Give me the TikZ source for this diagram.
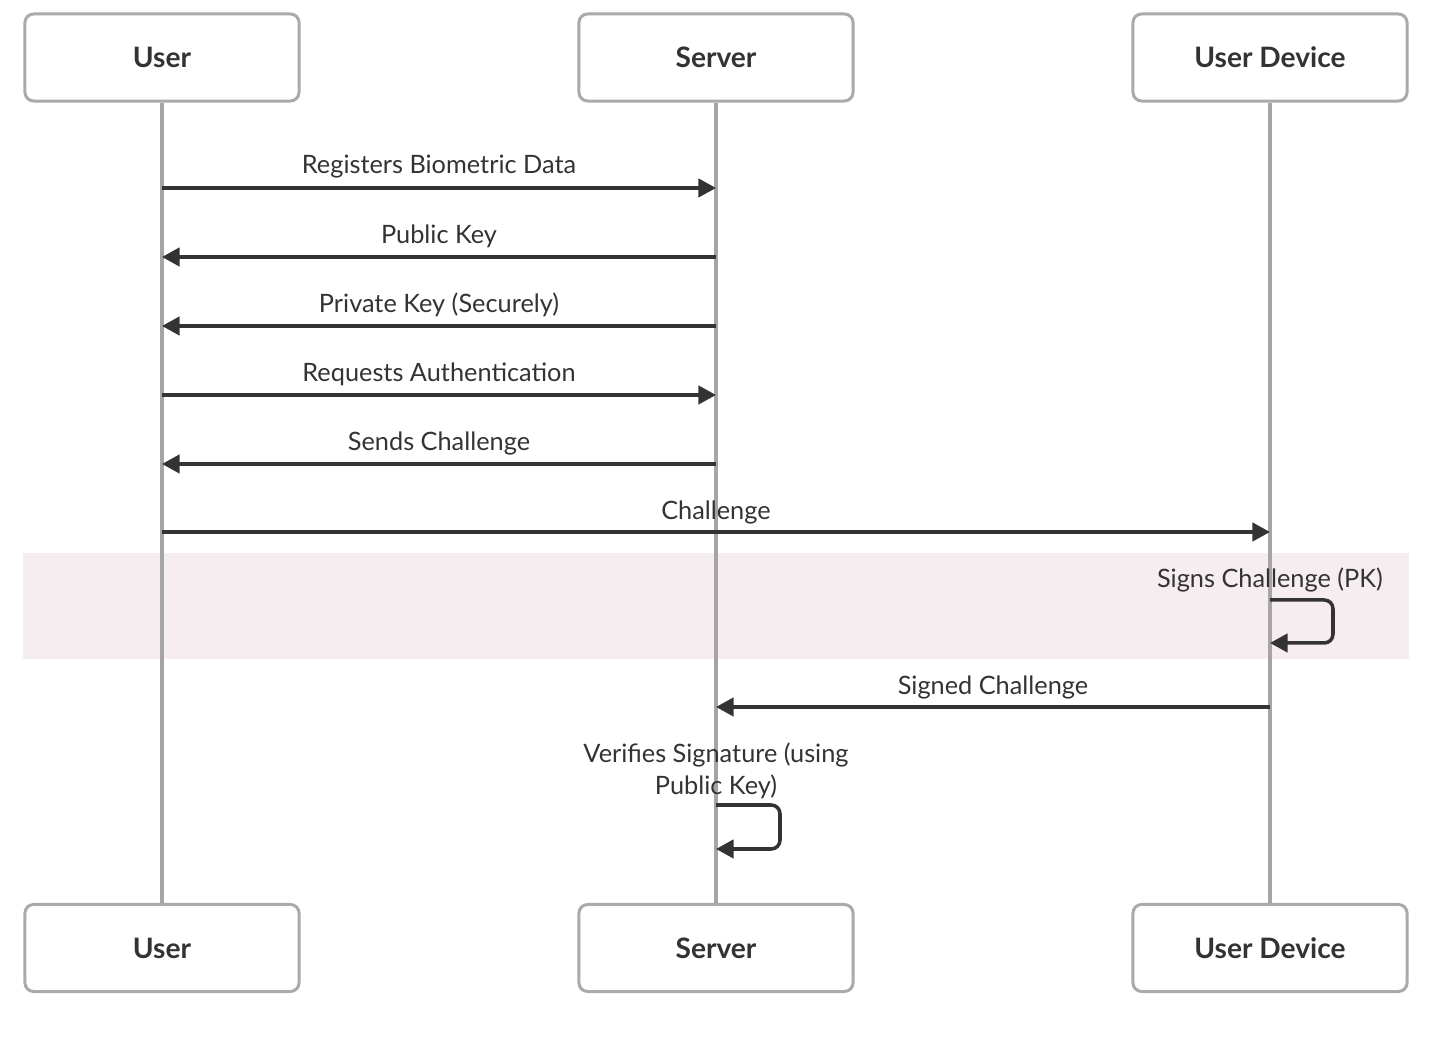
\documentclass[tikz,border=0pt]{standalone}
\usepackage{fontspec}
\setmainfont{Lato}
\usetikzlibrary{arrows.meta,positioning,calc}
\definecolor{boxgray}{RGB}{170,170,170}
\definecolor{linegray}{RGB}{165,165,165}
\definecolor{msgdark}{RGB}{51,51,51}
\definecolor{bandpink}{RGB}{246,237,240}
\tikzset{
  actor/.style={draw=boxgray, line width=0.85pt, rounded corners=2.5pt, fill=white,
    minimum width=2.74cm, minimum height=0.87cm, font=\fontsize{8}{9}\selectfont\bfseries, text=msgdark},
  lifeline/.style={draw=linegray, line width=0.95pt},
  msg/.style={draw=msgdark, line width=1pt, -{Triangle[length=5pt,width=5.2pt]}},
  msglbl/.style={font=\fontsize{7.2}{9}\selectfont, text=msgdark, inner sep=1pt}
}
\begin{document}
\begin{tikzpicture}[x=0.01cm, y=-0.01cm]
    \useasboundingbox (0,0) rectangle (1432,1037);

    % Highlighted region behind the signing step
    \fill[bandpink] (23,553) rectangle (1409,659);

    % Participants, top row
    \node[actor] (uTop) at (162,57.5) {User};
    \node[actor] (sTop) at (716,57.5) {Server};
    \node[actor] (dTop) at (1270,57.5) {User Device};

    % Participants, bottom row
    \node[actor] (uBot) at (162,948) {User};
    \node[actor] (sBot) at (716,948) {Server};
    \node[actor] (dBot) at (1270,948) {User Device};

    % Lifelines
    \draw[lifeline] (uTop) -- (uBot);
    \draw[lifeline] (sTop) -- (sBot);
    \draw[lifeline] (dTop) -- (dBot);

    % Points on the lifelines
    \foreach \n/\y in {1/188,2/257,3/326,4/395,5/464,6/532,7/600,8/643,9/707,10/805,11/849}{
      \coordinate (u\n) at (uTop |- 0,\y);
      \coordinate (s\n) at (sTop |- 0,\y);
      \coordinate (d\n) at (dTop |- 0,\y);
    }

    % Messages
    \draw[msg] (u1) -- (s1);
    \node[msglbl] (m1) at (439,167) {Registers Biometric Data};
    \draw[msg] (s2) -- (u2);
    \node[msglbl] (m2) at (439,236) {Public Key};
    \draw[msg] (s3) -- (u3);
    \node[msglbl] (m3) at (439,305) {Private Key (Securely)};
    \draw[msg] (u4) -- (s4);
    \node[msglbl] (m4) at (439,374) {Requests Authentication};
    \draw[msg] (s5) -- (u5);
    \node[msglbl] (m5) at (439,443) {Sends Challenge};
    \draw[msg] (u6) -- (d6);
    \node[msglbl] (m6) at (716,512) {Challenge};

    % Self call on the device
    \node[msglbl] (m7) at (1270,580) {Signs Challenge (PK)};
    \draw[msg, rounded corners=2.5pt] (d7) -- ++(63,0) -- ++(0,43) -- (d8);

    \draw[msg] (d9) -- (s9);
    \node[msglbl] (m9) at (993,687) {Signed Challenge};

    % Self call on the server
    \node[msglbl, align=center] (m10) at (716,771) {Verifies Signature (using\\Public Key)};
    \draw[msg, rounded corners=2.5pt] (s10) -- ++(64,0) -- ++(0,44) -- (s11);
\end{tikzpicture}
\end{document}
